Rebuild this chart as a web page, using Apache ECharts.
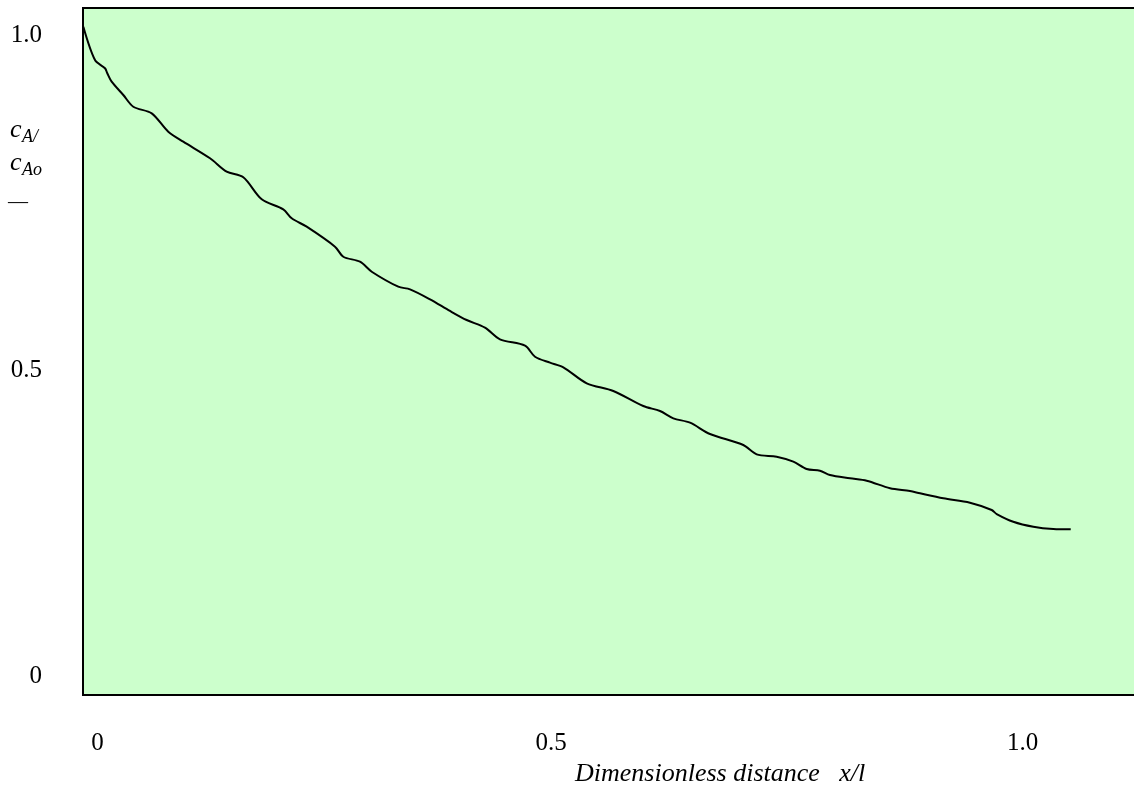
<!DOCTYPE html>
<html>
<head>
<meta charset="utf-8">
<title>Concentration profile along the reactor</title>
<script src="https://cdn.jsdelivr.net/npm/echarts@6.0.0/dist/echarts.min.js"></script>
<style>
    html, body { margin: 0; padding: 0; background: #ffffff; overflow: hidden; }
    /* a bit wider than the window so the box's right edge falls off the page */
    #chart { width: 1144px; height: 787px; }
</style>
</head>
<body>
<div id="chart"></div>
<script>
// dimensionless distance x/l
const distance = [
    -0.0153, -0.0027, 0.0081, 0.0106, 0.0153, 0.0279, 0.0387, 0.0586, 0.0765, 0.0927,
    0.1216, 0.1396, 0.1576, 0.1775, 0.2008, 0.2099, 0.2261, 0.2567, 0.2657, 0.2837,
    0.2964, 0.3251, 0.3378, 0.3594, 0.3810, 0.3990, 0.4188, 0.4350, 0.4621, 0.4729,
    0.4891, 0.5035, 0.5288, 0.5575, 0.5899, 0.6080, 0.6224, 0.6404, 0.6620, 0.6980,
    0.7125, 0.7341, 0.7521, 0.7665, 0.7809, 0.7917, 0.8133, 0.8314, 0.8566, 0.8782,
    0.8890, 0.9142, 0.9430, 0.9665, 0.9719, 0.9898, 1.0115, 1.0331, 1.0519
];

// cA / cAo at each distance
const concentration = [
    1.0137, 0.9617, 0.9488, 0.9410, 0.9279, 0.9071, 0.8888, 0.8785, 0.8498, 0.8342,
    0.8083, 0.7874, 0.7786, 0.7443, 0.7286, 0.7146, 0.7015, 0.6703, 0.6546, 0.6468,
    0.6312, 0.6078, 0.6037, 0.5881, 0.5699, 0.5558, 0.5438, 0.5257, 0.5157, 0.4985,
    0.4892, 0.4820, 0.4570, 0.4450, 0.4215, 0.4137, 0.4023, 0.3955, 0.3778, 0.3607,
    0.3461, 0.3424, 0.3346, 0.3232, 0.3205, 0.3138, 0.3087, 0.3049, 0.2931, 0.2888,
    0.2852, 0.2774, 0.2706, 0.2592, 0.2529, 0.2409, 0.2331, 0.2295, 0.2290
];

const xTicks = [0, 0.5, 1.0];
const yTicks = [0, 0.5, 1.0];

const serif = '"Liberation Serif", "DejaVu Serif", serif';

const chart = echarts.init(document.getElementById('chart'));

const option = {
    backgroundColor: '#ffffff',
    animation: false,
    grid: {
        left: 83,
        top: 8,
        right: 0,
        bottom: 92,
        show: true,
        backgroundColor: '#ccffcc',
        borderColor: '#000000',
        borderWidth: 2
    },
    xAxis: {
        type: 'value',
        min: -0.01567,
        max: 1.13111,
        axisLine: { show: false },
        axisTick: { show: false },
        splitLine: { show: false },
        axisLabel: {
            customValues: xTicks,
            margin: 48,
            verticalAlign: 'middle',
            color: '#000000',
            fontFamily: serif,
            fontSize: 25,
            // the middle label sits a little left of its tick in the original
            formatter: v => v === 0 ? '0' : (v === 0.5 ? '{mid|0.5}' : v.toFixed(1)),
            rich: {
                mid: { padding: [0, 18, 0, 0], fontFamily: serif, fontSize: 25, color: '#000000' }
            }
        }
    },
    yAxis: {
        type: 'value',
        min: -0.02966,
        max: 1.04294,
        axisLine: { show: false },
        axisTick: { show: false },
        splitLine: { show: false },
        axisLabel: {
            customValues: yTicks,
            margin: 41,
            color: '#000000',
            fontFamily: serif,
            fontSize: 25,
            // the middle label sits a little below its tick in the original
            formatter: v => v === 0 ? '0' : (v === 0.5 ? '{mid|0.5}' : v.toFixed(1)),
            rich: {
                mid: { padding: [29, 0, 0, 0], fontFamily: serif, fontSize: 25, color: '#000000' }
            }
        }
    },
    graphic: [
        { type: 'text', left: 10, top: 117, style: { text: 'c', fill: '#000', font: 'italic 26px ' + serif } },
        { type: 'text', left: 22, top: 128, style: { text: 'A/', fill: '#000', font: 'italic 18px ' + serif } },
        { type: 'text', left: 10, top: 150, style: { text: 'c', fill: '#000', font: 'italic 26px ' + serif } },
        { type: 'text', left: 22, top: 161, style: { text: 'Ao', fill: '#000', font: 'italic 18px ' + serif } },
        { type: 'text', left: 8, top: 193, style: { text: '\u2014', fill: '#000', font: '20px ' + serif } },
        { type: 'text', left: 575, top: 761, style: { text: 'Dimensionless distance   x/l', fill: '#000', font: 'italic 26px ' + serif } }
    ],
    series: [
        {
            type: 'line',
            data: distance.map((d, i) => [d, concentration[i]]),
            smooth: 0.3,
            showSymbol: false,
            clip: false,
            lineStyle: { color: '#000000', width: 2 }
        }
    ]
};

chart.setOption(option);
window.addEventListener('resize', () => chart.resize());
</script>
</body>
</html>
